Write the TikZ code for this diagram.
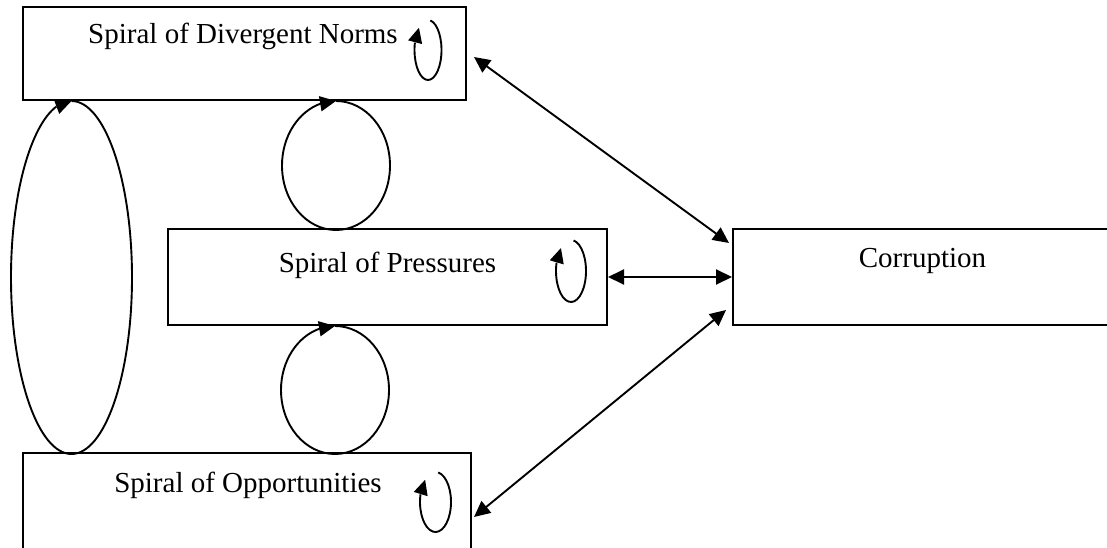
\documentclass[tikz,border=0pt]{standalone}
\usepackage{fontspec}
\setmainfont{Liberation Serif}
\usetikzlibrary{arrows.meta,bending}
\tikzset{
  box/.style={draw, line width=2pt, rectangle, inner sep=0pt},
  lbl/.style={anchor=base, inner sep=0pt, font=\fontsize{29}{34}\selectfont},
  twoway/.style={line width=1.9pt, {Triangle[length=16pt,width=15pt]}-{Triangle[length=16pt,width=15pt]}},
  cyc/.style={line width=1.9pt, -{Triangle[length=16pt,width=15pt,flex]}},
  selfloop/.style={line width=1.9pt, -{Triangle[length=15pt,width=14pt,flex]}}
}
\begin{document}
\begin{tikzpicture}[x=1pt,y=-1pt]
\useasboundingbox (0,0) rectangle (1107,548);
% boxes
\node[box, minimum width=443pt, minimum height=93pt] (norms) at (244.5,53.5) {};
\node[box, minimum width=439pt, minimum height=96pt] (press) at (387.5,277) {};
\node[box, minimum width=448pt, minimum height=102pt] (opp) at (247,504) {};
\node[box, minimum width=379pt, minimum height=96pt] (corr) at (922.5,277) {};
% texts
\node[lbl] (tnorms) at (243,44) {Spiral of Divergent Norms};
\node[lbl] (tpress) at (387.5,272) {Spiral of Pressures};
\node[lbl] (topp) at (248,492) {Spiral of Opportunities};
\node[lbl] (tcorr) at (922.5,267) {Corruption};
% self loops
\draw[selfloop] ([shift={(-39,44)}]norms.north east) ++(-80:13.5 and 30)
  arc[start angle=-80, end angle=228, x radius=13.5, y radius=30];
\draw[selfloop] ([shift={(-37,43)}]press.north east) ++(-80:15 and 31)
  arc[start angle=-80, end angle=228, x radius=15, y radius=31];
\draw[selfloop] ([shift={(-36.5,50)}]opp.north east) ++(-80:15.5 and 30)
  arc[start angle=-80, end angle=228, x radius=15.5, y radius=30];
% cycles between the spirals
\draw[cyc] ([xshift=49.5pt]norms.south west)
  arc[start angle=-90, end angle=270, x radius=60.5, y radius=176.5];
\draw[cyc] ([xshift=314pt]norms.south west)
  arc[start angle=-90, end angle=270, x radius=54, y radius=64.5];
\draw[cyc] ([xshift=168pt]press.south west)
  arc[start angle=-90, end angle=270, x radius=54, y radius=64];
% links to corruption
\draw[twoway] ([shift={(7,3.5)}]norms.east) -- ([shift={(-3,-34)}]corr.west);
\draw[twoway] (press.east) -- (corr.west);
\draw[twoway] ([shift={(2,13)}]opp.east) -- ([shift={(-6,33)}]corr.west);
\end{tikzpicture}
\end{document}
